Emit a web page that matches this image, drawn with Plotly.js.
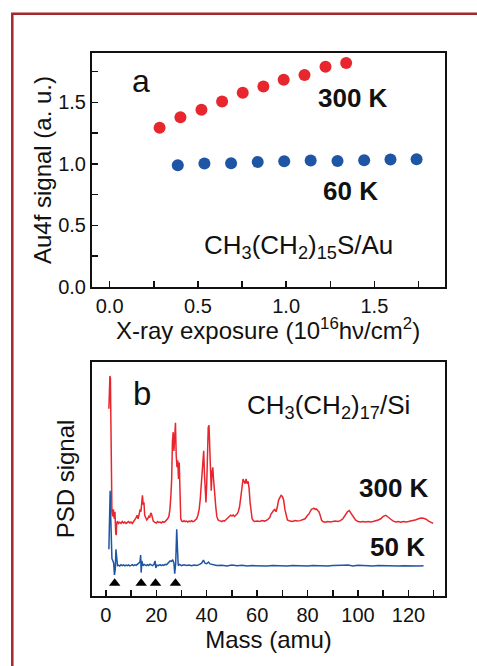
<!DOCTYPE html>
<html>
<head>
<meta charset="utf-8">
<script src="https://cdn.plot.ly/plotly-3.0.1.min.js"></script>
<style>
html,body{margin:0;padding:0;background:#fff;overflow:hidden;}
#chart{width:477px;height:666px;}
</style>
</head>
<body>
<div id="chart"></div>
<script>
// ---- Panel a: Au4f signal vs X-ray exposure ----
const exposure300 = [0.283, 0.401, 0.520, 0.637, 0.754, 0.871, 0.986, 1.104, 1.223, 1.340];
const signal300   = [1.294, 1.378, 1.440, 1.507, 1.577, 1.628, 1.682, 1.721, 1.788, 1.818];
const exposure60  = [0.386, 0.537, 0.688, 0.839, 0.989, 1.139, 1.291, 1.442, 1.591, 1.739];
const signal60    = [0.989, 1.002, 1.005, 1.016, 1.021, 1.027, 1.024, 1.029, 1.035, 1.037];

// ---- Panel b: PSD spectra ----
const mass300 = [1.2,1.4,1.6,1.8,2.0,2.2,2.4,2.7,3.0,3.3,3.6,3.9,4.1,4.3,4.6,5,5.5,6,6.5,7,7.5,8,8.5,9,9.5,10,10.5,11,11.5,12,12.4,12.8,13.2,13.6,13.9,14.2,14.5,14.8,15.1,15.4,15.8,16.2,16.6,17,17.4,17.8,18.1,18.4,18.8,19.3,20,20.5,21,21.5,22,22.5,23,23.5,24,24.5,25,25.4,25.8,26.1,26.4,26.7,27.0,27.3,27.6,27.9,28.2,28.5,28.8,29.1,29.4,29.7,30.1,30.6,31,31.5,32,32.5,33,33.5,34,34.5,35,35.5,36,36.5,37,37.4,37.8,38.2,38.5,38.8,39.1,39.4,39.7,40.0,40.3,40.6,40.9,41.2,41.5,41.8,42.1,42.4,42.7,43.0,43.3,43.6,44.0,44.5,45,45.5,46,46.5,47,47.5,48,48.5,49,49.5,50,50.5,51,51.5,52,52.5,53,53.5,54,54.4,54.8,55.2,55.6,56.0,56.4,56.8,57.2,57.6,58,58.5,59,60,61,62,63,64,65,65.5,66,66.5,67,67.5,68,68.5,69,69.5,70,70.5,71,71.5,72,73,74,75,76,77,78,79,80,80.5,81,81.5,82,82.5,83,83.5,84,84.5,85,85.5,86,87,88,89,90,91,92,93,94,95,95.8,96.5,97.2,98,99,100,101,102,103,104,105,106,107,108,109,110,111,112,113,114,115,116,117,118,119,120,121,122,123,124,125,126,127,128,129,129.8];
const psd300 = [0.80,0.90,0.94,0.93,0.70,0.45,0.36,0.34,0.37,0.33,0.36,0.27,0.26,0.31,0.32,0.31,0.315,0.31,0.318,0.312,0.316,0.31,0.314,0.318,0.312,0.316,0.31,0.318,0.322,0.335,0.345,0.33,0.35,0.37,0.36,0.42,0.43,0.39,0.40,0.345,0.33,0.325,0.33,0.34,0.335,0.355,0.35,0.33,0.32,0.316,0.312,0.318,0.314,0.316,0.312,0.318,0.315,0.318,0.322,0.33,0.34,0.37,0.43,0.50,0.66,0.70,0.62,0.73,0.74,0.60,0.55,0.58,0.50,0.57,0.45,0.33,0.32,0.318,0.322,0.318,0.32,0.316,0.32,0.318,0.322,0.318,0.32,0.325,0.33,0.345,0.37,0.41,0.47,0.52,0.60,0.62,0.52,0.47,0.40,0.48,0.62,0.72,0.73,0.60,0.50,0.45,0.53,0.55,0.50,0.45,0.44,0.38,0.34,0.325,0.322,0.32,0.318,0.322,0.32,0.325,0.33,0.335,0.34,0.345,0.342,0.346,0.34,0.345,0.35,0.36,0.38,0.42,0.47,0.50,0.49,0.48,0.50,0.48,0.49,0.46,0.40,0.35,0.33,0.322,0.318,0.32,0.318,0.322,0.32,0.325,0.335,0.35,0.36,0.365,0.37,0.36,0.38,0.41,0.42,0.43,0.425,0.41,0.37,0.34,0.325,0.32,0.318,0.322,0.32,0.322,0.325,0.33,0.345,0.35,0.36,0.37,0.372,0.375,0.37,0.372,0.365,0.36,0.345,0.325,0.318,0.315,0.318,0.316,0.318,0.32,0.318,0.322,0.33,0.345,0.36,0.365,0.355,0.34,0.325,0.318,0.316,0.318,0.316,0.318,0.316,0.318,0.32,0.325,0.33,0.34,0.345,0.338,0.328,0.32,0.316,0.318,0.315,0.318,0.316,0.318,0.32,0.322,0.326,0.33,0.333,0.332,0.328,0.32,0.315,0.31];

const mass50 = [1.2,1.5,1.7,1.9,2.1,2.4,2.8,3.1,3.4,3.7,4.0,4.3,4.6,5,5.5,6,6.5,7,7.5,8,8.5,9,9.5,10,10.5,11,11.5,12,12.5,13,13.5,13.8,14.0,14.3,14.7,15.2,16,16.5,17,17.5,18,18.5,19,19.5,19.8,20.2,20.8,21.5,22,22.5,23,23.5,24,24.5,25,25.5,26,26.5,27,27.3,27.7,28.1,28.4,28.7,29.2,30,31,32,33,34,35,36,37,38,38.7,39.3,40,40.7,41.3,42,43,44,46,48,50,52,54,56,58,60,62,64,66,68,70,72,74,76,78,80,82,84,86,88,90,92,94,96,98,100,102,104,106,108,110,112,114,116,118,120,122,124,126,128,129.8];
const psd50 = [0.20,0.30,0.45,0.35,0.20,0.16,0.15,0.14,0.09,0.11,0.20,0.16,0.13,0.132,0.128,0.134,0.13,0.133,0.129,0.132,0.13,0.133,0.129,0.131,0.134,0.13,0.133,0.131,0.135,0.138,0.145,0.175,0.10,0.15,0.13,0.135,0.13,0.134,0.13,0.136,0.133,0.13,0.134,0.15,0.12,0.132,0.13,0.134,0.13,0.133,0.131,0.135,0.133,0.138,0.142,0.15,0.148,0.155,0.14,0.095,0.14,0.285,0.20,0.13,0.135,0.13,0.133,0.13,0.132,0.129,0.132,0.13,0.134,0.14,0.153,0.14,0.138,0.145,0.137,0.135,0.132,0.13,0.131,0.128,0.132,0.129,0.131,0.128,0.13,0.129,0.131,0.128,0.13,0.129,0.131,0.128,0.13,0.129,0.131,0.128,0.13,0.129,0.131,0.128,0.13,0.129,0.131,0.132,0.128,0.131,0.129,0.13,0.128,0.13,0.129,0.128,0.13,0.128,0.129,0.128,0.13,0.128,0.129];

const markerMass = [3.5, 14, 19.7, 27.6];
const markerLevel = [0.055, 0.055, 0.055, 0.055];

const RED = '#e8262e';
const BLUE = '#1f55a5';
const FONT = 'Liberation Sans, Arial, Helvetica, sans-serif';

const traces = [
  {x: exposure300, y: signal300, xaxis:'x', yaxis:'y', mode:'markers', type:'scatter',
   marker:{color:RED, size:12}},
  {x: exposure60, y: signal60, xaxis:'x', yaxis:'y', mode:'markers', type:'scatter',
   marker:{color:BLUE, size:12}},
  {x: mass300, y: psd300, xaxis:'x2', yaxis:'y2', mode:'lines', type:'scatter',
   line:{color:RED, width:1.5}},
  {x: mass50, y: psd50, xaxis:'x2', yaxis:'y2', mode:'lines', type:'scatter',
   line:{color:BLUE, width:1.5}},
  {x: markerMass, y: markerLevel, xaxis:'x2', yaxis:'y2', mode:'markers', type:'scatter',
   marker:{color:'#000', size:10, symbol:'triangle-up'}}
];

const axisBase = {
  showline:true, linewidth:2, linecolor:'#111', mirror:true,
  showgrid:false, zeroline:false,
  ticks:'inside', ticklen:6, tickwidth:1.5, tickcolor:'#111',
  tickfont:{family:FONT, size:20, color:'#111'}
};

const layout = {
  width:477, height:666,
  margin:{l:92, r:32, t:53, b:70},
  paper_bgcolor:'#fff', plot_bgcolor:'#fff',
  showlegend:false,
  font:{family:FONT, color:'#111'},
  xaxis: Object.assign({}, axisBase, {
    domain:[0,1], anchor:'y', range:[-0.1,1.9], tick0:0, dtick:0.5, tickformat:'.1f',
    minor:{ticks:'inside', dtick:0.25, tick0:0, ticklen:6, tickwidth:1.5, tickcolor:'#111'}
  }),
  yaxis: Object.assign({}, axisBase, {
    domain:[0.569,1], anchor:'x', range:[0,1.9], tick0:0, dtick:0.5, tickformat:'.1f',
    minor:{ticks:'inside', dtick:0.25, tick0:0, ticklen:6, tickwidth:1.5, tickcolor:'#111'},
    title:{text:'Au4f signal (a. u.)', font:{family:FONT, size:24, color:'#111'}, standoff:0}
  }),
  xaxis2: Object.assign({}, axisBase, {
    domain:[0,1], anchor:'y2', range:[-5.5,134.5], tick0:0, dtick:20,
    minor:{ticks:'inside', dtick:10, tick0:0, ticklen:6, tickwidth:1.5, tickcolor:'#111'},
    title:{text:'Mass (amu)', font:{family:FONT, size:24, color:'#111'}, standoff:0}
  }),
  yaxis2: Object.assign({}, axisBase, {
    domain:[0,0.431], anchor:'x2', range:[0,1], ticks:'', showticklabels:false,
    title:{text:'PSD signal', font:{family:FONT, size:24, color:'#111'}, standoff:9}
  }),
  annotations:[
    {xref:'paper', yref:'paper', x:0.4986, y:0.4917, yanchor:'middle', text:'X-ray exposure (10<sup>16</sup>hν/cm<sup>2</sup>)', showarrow:false, font:{family:FONT, size:24, color:'#111'}},
    {xref:'x', yref:'y', x:0.176, y:1.669, text:'a', showarrow:false, font:{family:FONT, size:32, color:'#111'}},
    {xref:'x', yref:'y', x:1.381, y:1.535, text:'<b>300 K</b>', showarrow:false, font:{family:FONT, size:26, color:'#111'}},
    {xref:'x', yref:'y', x:1.365, y:0.781, text:'<b>60 K</b>', showarrow:false, font:{family:FONT, size:26, color:'#111'}},
    {xref:'x', yref:'y', x:0.522, y:0.33, xanchor:'left', text:'CH<sub>3</sub>(CH<sub>2</sub>)<sub>15</sub>S/Au', showarrow:false, font:{family:FONT, size:26, color:'#111'}},
    {xref:'x2', yref:'y2', x:14.2, y:0.865, text:'b', showarrow:false, font:{family:FONT, size:33, color:'#111'}},
    {xref:'x2', yref:'y2', x:55.2, y:0.81, xanchor:'left', text:'CH<sub>3</sub>(CH<sub>2</sub>)<sub>17</sub>/Si', showarrow:false, font:{family:FONT, size:26, color:'#111'}},
    {xref:'x2', yref:'y2', x:114.3, y:0.463, text:'<b>300 K</b>', showarrow:false, font:{family:FONT, size:26, color:'#111'}},
    {xref:'x2', yref:'y2', x:115.5, y:0.208, text:'<b>50 K</b>', showarrow:false, font:{family:FONT, size:26, color:'#111'}}
  ],
  shapes:[
    {type:'rect', xref:'paper', yref:'paper', x0:-0.2258, x1:1.5, y0:-0.4, y1:1.0724,
     line:{color:'#a2292d', width:2.5}, fillcolor:'rgba(0,0,0,0)', layer:'above'}
  ]
};

Plotly.newPlot('chart', traces, layout, {staticPlot:true, displayModeBar:false});
</script>
</body>
</html>
